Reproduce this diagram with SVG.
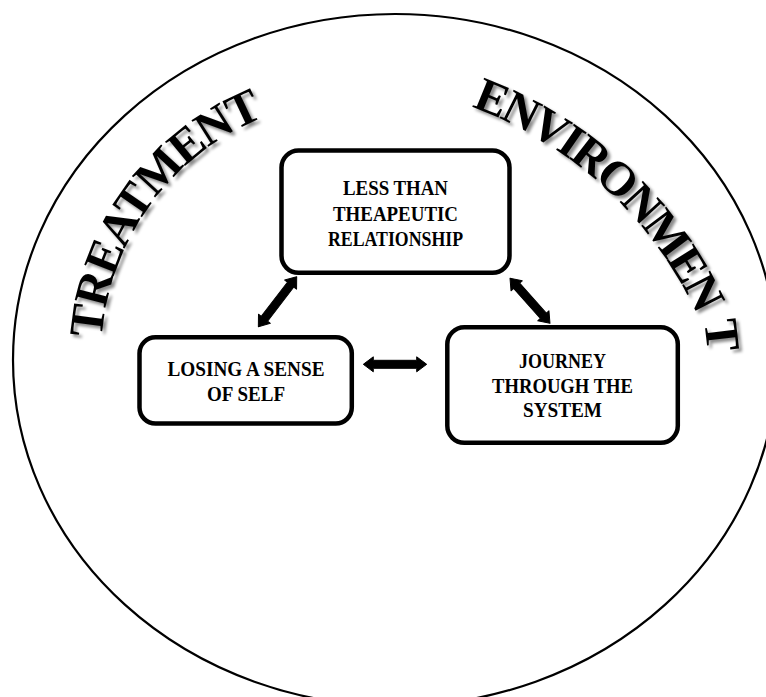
<svg xmlns="http://www.w3.org/2000/svg" xmlns:xlink="http://www.w3.org/1999/xlink" width="766" height="697" viewBox="0 0 766 697">
  <defs>
    <style>
      .box { fill: #fff; stroke: #000; stroke-width: 4.5; }
      .label { font-family: "Liberation Serif", "Times New Roman", serif; font-weight: bold; font-size: 20px; fill: #000; text-anchor: middle; }
      .arc { font-family: "Liberation Serif", "Times New Roman", serif; font-weight: bold; font-size: 48px; fill: #000; }
      .arrow { fill: #000; stroke: #000; stroke-width: 1; stroke-linejoin: round; }
    </style>
    <filter id="shadow" x="-10%" y="-10%" width="130%" height="130%">
      <feDropShadow dx="3" dy="3" stdDeviation="1.5" flood-color="#000" flood-opacity="0.45"/>
    </filter>
    <path id="treatPath" d="M101.7,338.5 A258.5,258.5 0 0,1 381.5,99.5" fill="none"/>
    <path id="envPath" d="M471.5,106.7 A401,401 0 0,1 732.5,448" fill="none"/>
  </defs>

  <rect width="766" height="697" fill="#fff"/>

  <g id="outer-circle">
    <ellipse cx="395" cy="360" rx="382" ry="346" fill="none" stroke="#000" stroke-width="2.2"/>
  </g>

  <g id="treatment-label" filter="url(#shadow)">
    <text class="arc" letter-spacing="-2"><textPath xlink:href="#treatPath" href="#treatPath">TREATMENT</textPath></text>
  </g>

  <g id="environment-label" filter="url(#shadow)">
    <text class="arc" letter-spacing="-2.6"><textPath xlink:href="#envPath" href="#envPath">ENVIRONMEN<tspan dx="10" rotate="15">T</tspan></textPath></text>
  </g>

  <g id="connectors">
    <path class="arrow" transform="translate(296.7,276.7) rotate(127.5)" d="M0,0 L10,-7.5 L10,-4 L53,-4 L53,-7.5 L63,0 L53,7.5 L53,4 L10,4 L10,7.5 Z"/>
    <path class="arrow" transform="translate(363.3,364.3)" d="M0,0 L10,-7.5 L10,-4 L53.4,-4 L53.4,-7.5 L63.4,0 L53.4,7.5 L53.4,4 L10,4 L10,7.5 Z"/>
    <path class="arrow" transform="translate(510,278.3) rotate(48.4)" d="M0,0 L10,-7.5 L10,-4 L50.2,-4 L50.2,-7.5 L60.2,0 L50.2,7.5 L50.2,4 L10,4 L10,7.5 Z"/>
  </g>

  <g id="node-relationship">
    <rect class="box" x="281.5" y="150.5" width="228" height="122.3" rx="17"/>
    <text class="label" x="395.5" y="195" textLength="105" lengthAdjust="spacingAndGlyphs">LESS THAN</text>
    <text class="label" x="395.5" y="221" textLength="125" lengthAdjust="spacingAndGlyphs">THEAPEUTIC</text>
    <text class="label" x="395.5" y="246" textLength="135" lengthAdjust="spacingAndGlyphs">RELATIONSHIP</text>
  </g>

  <g id="node-self">
    <rect class="box" x="139.5" y="337.3" width="212.3" height="86.2" rx="16"/>
    <text class="label" x="246" y="376" textLength="157" lengthAdjust="spacingAndGlyphs">LOSING A SENSE</text>
    <text class="label" x="246" y="400.7" textLength="78" lengthAdjust="spacingAndGlyphs">OF SELF</text>
  </g>

  <g id="node-journey">
    <rect class="box" x="447.3" y="327.3" width="230.5" height="115.5" rx="17"/>
    <text class="label" x="562.5" y="368" textLength="87" lengthAdjust="spacingAndGlyphs">JOURNEY</text>
    <text class="label" x="562.5" y="393" textLength="141" lengthAdjust="spacingAndGlyphs">THROUGH THE</text>
    <text class="label" x="562.5" y="417" textLength="79" lengthAdjust="spacingAndGlyphs">SYSTEM</text>
  </g>
</svg>
